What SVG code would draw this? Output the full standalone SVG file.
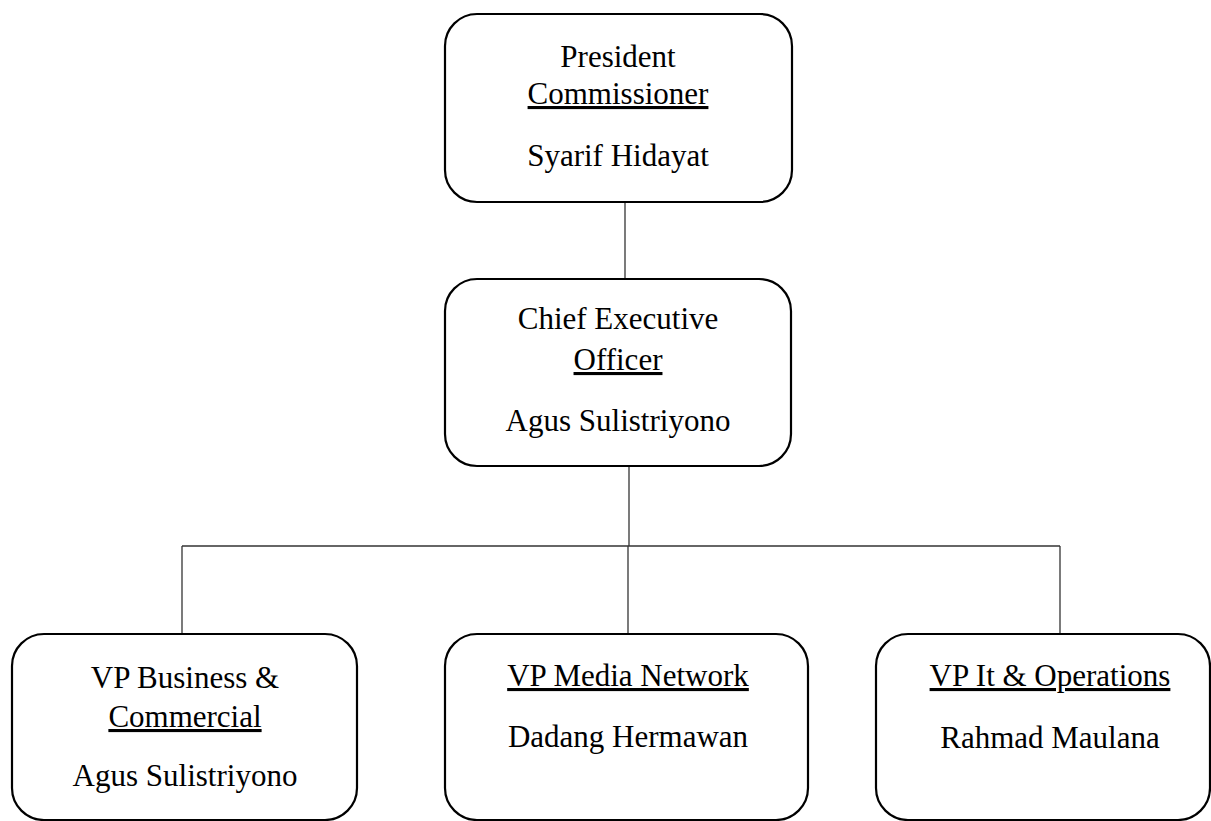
<svg xmlns="http://www.w3.org/2000/svg" width="1211" height="821" viewBox="0 0 1211 821">
<style>
.box{fill:#fff;stroke:#000;stroke-width:2.2}
.t{font-family:"Liberation Serif","Times New Roman",serif;font-size:31px;fill:#000;text-anchor:middle}
.u{text-decoration:underline}
.c{stroke:#333;stroke-width:1.3;fill:none}
</style>
<rect width="1211" height="821" fill="#fff"/>
<g id="connectors">
<line class="c" x1="625" y1="202" x2="625" y2="287"/>
<line class="c" x1="629" y1="466" x2="629" y2="546"/>
<line class="c" x1="182" y1="546" x2="1060" y2="546"/>
<line class="c" x1="182" y1="546" x2="182" y2="634"/>
<line class="c" x1="628" y1="546" x2="628" y2="634"/>
<line class="c" x1="1060" y1="546" x2="1060" y2="634"/>
</g>
<g id="president">
<rect class="box" x="445" y="14" width="347" height="188" rx="32" ry="32"/>
<text class="t" x="618" y="67">President</text>
<text class="t u" x="618" y="104">Commissioner</text>
<text class="t" x="618" y="166">Syarif Hidayat</text>
</g>
<g id="ceo">
<rect class="box" x="445" y="279" width="346" height="187" rx="32" ry="32"/>
<text class="t" x="618" y="329">Chief Executive</text>
<text class="t u" x="618" y="370">Officer</text>
<text class="t" x="618" y="431">Agus Sulistriyono</text>
</g>
<g id="vp-business">
<rect class="box" x="12" y="634" width="345" height="186" rx="32" ry="32"/>
<text class="t" x="185" y="688">VP Business &amp;</text>
<text class="t u" x="185" y="727">Commercial</text>
<text class="t" x="185" y="786">Agus Sulistriyono</text>
</g>
<g id="vp-media">
<rect class="box" x="445" y="634" width="363" height="186" rx="32" ry="32"/>
<text class="t u" x="628" y="686">VP Media Network</text>
<text class="t" x="628" y="747">Dadang Hermawan</text>
</g>
<g id="vp-it">
<rect class="box" x="876" y="634" width="334" height="186" rx="32" ry="32"/>
<text class="t u" x="1050" y="686">VP It &amp; Operations</text>
<text class="t" x="1050" y="748">Rahmad Maulana</text>
</g>
</svg>
